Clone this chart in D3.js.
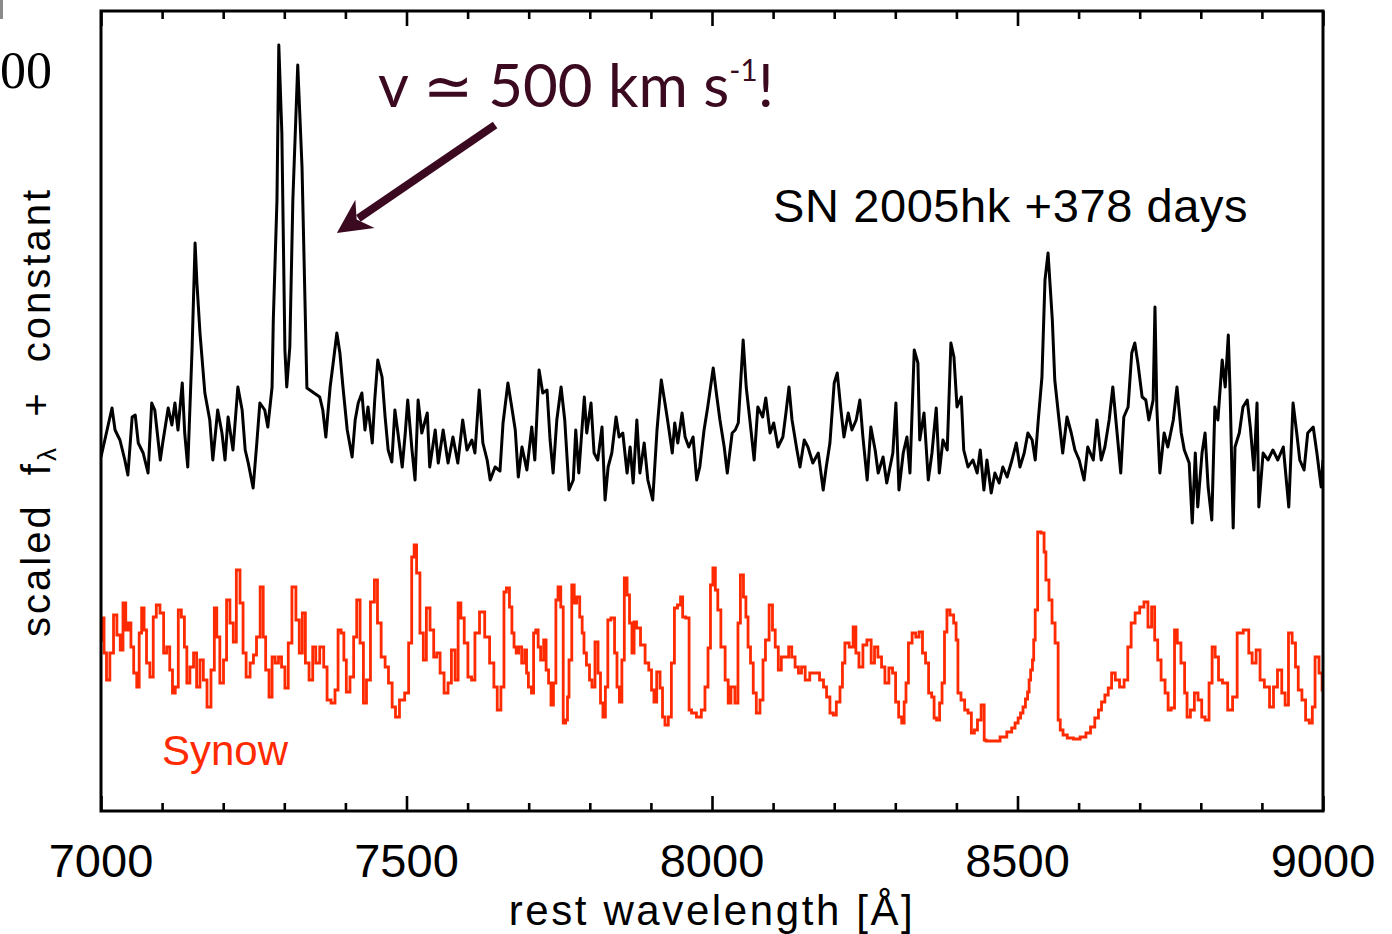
<!DOCTYPE html>
<html>
<head>
<meta charset="utf-8">
<script src="https://cdn.jsdelivr.net/npm/d3@7"></script>
<style>
  body { margin: 0; background: #fff; }
  svg { display: block; }
  text { white-space: pre; }
</style>
</head>
<body>
<svg id="chart" width="1392" height="934"></svg>
<script>
// Late-time spectrum of SN 2005hk: observed flux (offset) and the Synow fit below it.
// [rest wavelength in Angstrom, scaled flux + constant]
const observed = [
  [7000,3.54],[7018,4.03],[7023,3.81],[7031,3.71],[7039,3.51],[7044,3.36],[7051,3.94],[7056,3.96],
  [7061,3.68],[7069,3.58],[7077,3.38],[7083,4.08],[7088,4.01],[7097,3.51],[7101,3.68],[7110,4.03],
  [7116,3.86],[7121,4.08],[7126,3.81],[7133,4.28],[7137,3.78],[7142,3.44],[7149,4.61],[7154,5.68],
  [7157,5.28],[7162,4.78],[7170,4.18],[7178,3.91],[7183,3.51],[7191,4.01],[7198,3.78],[7203,3.51],
  [7208,3.94],[7216,3.61],[7224,4.24],[7231,4.01],[7236,3.61],[7241,3.48],[7249,3.23],[7255,3.68],
  [7260,4.08],[7268,4.01],[7273,3.84],[7280,4.24],[7282,4.91],[7288,6.11],[7291,7.66],[7296,6.78],
  [7301,4.61],[7304,4.24],[7309,4.64],[7314,6.11],[7322,7.46],[7329,6.44],[7337,4.23],[7358,4.14],
  [7363,4.01],[7368,3.74],[7375,4.24],[7380,4.48],[7386,4.78],[7391,4.58],[7396,4.24],[7403,3.81],
  [7411,3.54],[7416,3.91],[7421,4.08],[7427,4.18],[7432,3.81],[7437,4.04],[7444,3.68],[7448,4.11],
  [7453,4.51],[7460,4.34],[7465,3.94],[7470,3.61],[7476,3.49],[7481,4.01],[7486,3.78],[7493,3.44],
  [7498,3.78],[7502,4.11],[7509,3.61],[7514,3.31],[7519,4.11],[7525,3.78],[7534,3.98],[7538,3.44],
  [7547,3.81],[7552,3.48],[7560,3.81],[7568,3.48],[7576,3.74],[7584,3.48],[7592,3.91],[7599,3.61],
  [7607,3.71],[7612,3.58],[7619,4.21],[7625,3.68],[7632,3.51],[7637,3.31],[7645,3.44],[7653,3.40],
  [7658,3.88],[7666,4.28],[7673,4.01],[7678,3.81],[7683,3.34],[7689,3.64],[7697,3.41],[7705,3.84],
  [7710,3.51],[7717,4.41],[7723,4.18],[7730,4.21],[7735,3.71],[7740,3.38],[7746,3.91],[7753,4.24],
  [7759,3.91],[7766,3.21],[7773,3.31],[7777,3.81],[7782,3.38],[7791,4.14],[7795,3.78],[7802,4.08],
  [7807,3.58],[7813,3.51],[7820,3.84],[7825,3.11],[7830,3.44],[7836,3.58],[7843,3.94],[7848,3.74],
  [7854,3.78],[7861,3.38],[7866,3.64],[7871,3.28],[7877,3.91],[7882,3.38],[7889,3.68],[7895,3.31],
  [7903,3.11],[7910,3.81],[7917,4.31],[7923,4.08],[7928,3.88],[7935,3.58],[7939,3.88],[7944,3.68],
  [7951,3.98],[7956,3.74],[7962,3.64],[7969,3.74],[7975,3.31],[7980,3.44],[7987,3.81],[7993,4.04],
  [8002,4.43],[8008,4.14],[8013,3.91],[8020,3.64],[8025,3.38],[8033,3.78],[8038,3.81],[8043,3.88],
  [8051,4.71],[8056,4.24],[8062,3.91],[8069,3.51],[8075,4.04],[8083,3.94],[8088,4.13],[8095,3.78],
  [8101,3.88],[8108,3.64],[8116,3.74],[8121,3.98],[8126,4.24],[8131,3.91],[8139,3.61],[8144,3.44],
  [8151,3.71],[8157,3.64],[8165,3.48],[8174,3.58],[8182,3.21],[8187,3.44],[8193,3.68],[8200,4.28],
  [8205,4.38],[8211,4.01],[8216,3.74],[8223,3.98],[8229,3.81],[8236,3.91],[8242,4.11],[8247,3.74],
  [8254,3.31],[8260,3.84],[8267,3.61],[8272,3.38],[8280,3.54],[8286,3.28],[8296,3.58],[8301,4.08],
  [8306,3.21],[8313,3.58],[8319,3.74],[8324,3.38],[8331,4.61],[8337,4.48],[8340,3.71],[8347,3.98],
  [8354,3.31],[8360,3.58],[8367,4.03],[8372,3.38],[8378,3.71],[8385,3.61],[8391,4.68],[8396,4.54],
  [8401,4.04],[8408,4.14],[8412,3.61],[8419,3.44],[8427,3.51],[8434,3.38],[8439,3.61],[8445,3.21],
  [8450,3.51],[8457,3.18],[8463,3.38],[8470,3.28],[8476,3.44],[8483,3.34],[8491,3.51],[8498,3.68],
  [8504,3.44],[8511,3.58],[8517,3.78],[8524,3.71],[8529,3.51],[8534,3.91],[8540,4.34],[8545,5.31],
  [8550,5.58],[8557,4.91],[8561,4.31],[8568,3.91],[8574,3.58],[8581,3.94],[8588,3.78],[8594,3.61],
  [8601,3.51],[8609,3.31],[8615,3.64],[8624,3.51],[8630,3.91],[8637,3.51],[8643,3.64],[8650,3.91],
  [8656,4.24],[8663,3.78],[8669,3.38],[8674,3.94],[8681,4.04],[8687,4.58],[8692,4.68],[8697,4.48],
  [8704,4.14],[8710,4.11],[8715,3.91],[8722,4.11],[8725,5.04],[8728,4.04],[8733,3.38],[8740,3.78],
  [8746,3.64],[8755,3.91],[8761,4.24],[8768,3.78],[8773,3.61],[8781,3.48],[8786,2.88],[8791,3.58],
  [8795,3.04],[8802,3.58],[8807,3.78],[8812,3.24],[8818,2.91],[8823,4.04],[8828,3.91],[8835,4.51],
  [8840,4.24],[8845,4.76],[8848,4.18],[8853,2.83],[8856,3.64],[8863,3.78],[8869,4.04],[8876,4.11],
  [8881,3.84],[8887,3.41],[8892,4.08],[8895,3.04],[8902,3.58],[8910,3.51],[8918,3.61],[8926,3.51],
  [8935,3.64],[8941,3.24],[8944,3.04],[8951,4.08],[8957,3.78],[8962,3.51],[8969,3.41],[8975,3.78],
  [8984,3.84],[8990,3.58],[8997,3.24],[9000,3.51]
];

// Synow synthetic spectrum, binned (drawn as steps)
const synow = [
  [7000,1.71],[7003,1.93],[7007,1.58],[7011,1.31],[7018,1.58],[7023,1.96],[7029,1.76],[7034,1.61],
  [7038,2.08],[7043,1.81],[7047,1.88],[7051,1.64],[7056,1.38],[7061,1.24],[7064,1.78],[7069,2.03],
  [7072,1.81],[7077,1.48],[7083,1.34],[7088,1.94],[7093,2.06],[7100,1.98],[7105,1.58],[7110,1.64],
  [7115,1.41],[7119,1.18],[7124,1.24],[7129,2.01],[7134,1.94],[7139,1.64],[7142,1.28],[7149,1.44],
  [7154,1.58],[7159,1.24],[7165,1.51],[7170,1.31],[7177,1.04],[7183,1.41],[7188,2.03],[7191,1.74],
  [7198,1.28],[7203,1.51],[7208,2.11],[7214,1.88],[7219,1.69],[7224,2.41],[7231,2.08],[7234,1.58],
  [7241,1.34],[7247,1.48],[7252,1.56],[7257,1.74],[7264,2.24],[7267,1.74],[7272,1.41],[7278,1.14],
  [7282,1.54],[7288,1.48],[7293,1.54],[7298,1.44],[7304,1.23],[7309,1.68],[7316,2.24],[7322,1.91],
  [7327,1.58],[7332,1.98],[7337,1.48],[7344,1.31],[7349,1.64],[7354,1.48],[7362,1.64],[7367,1.44],
  [7373,1.11],[7380,1.08],[7386,1.21],[7390,1.81],[7396,1.78],[7399,1.51],[7404,1.19],[7411,1.34],
  [7416,1.74],[7421,2.11],[7427,1.68],[7432,1.08],[7437,1.31],[7445,2.09],[7450,2.31],[7455,1.88],
  [7462,1.54],[7468,1.44],[7473,1.28],[7480,1.04],[7484,0.94],[7493,1.11],[7501,1.18],[7506,1.68],
  [7511,2.54],[7514,2.66],[7519,2.38],[7525,1.78],[7530,1.51],[7535,2.03],[7542,1.81],[7547,1.54],
  [7552,1.58],[7558,1.38],[7565,1.18],[7571,1.28],[7576,1.61],[7583,1.31],[7586,2.08],[7592,1.93],
  [7597,1.68],[7604,1.34],[7609,1.31],[7615,1.78],[7624,1.99],[7632,1.74],[7640,1.48],[7646,1.24],
  [7651,1.01],[7658,1.24],[7661,2.19],[7666,2.23],[7671,2.04],[7674,1.78],[7678,1.64],[7681,1.58],
  [7686,1.64],[7691,1.48],[7696,1.61],[7697,1.38],[7702,1.24],[7707,1.18],[7709,1.78],[7714,1.81],
  [7717,1.64],[7722,1.51],[7727,1.71],[7730,1.41],[7735,1.28],[7738,1.06],[7743,1.28],[7746,2.11],
  [7750,2.24],[7755,2.04],[7758,0.88],[7763,0.91],[7764,1.14],[7768,1.51],[7773,2.26],[7776,2.08],
  [7781,2.14],[7786,1.94],[7789,1.78],[7792,1.58],[7797,1.46],[7802,1.31],[7805,1.24],[7812,1.69],
  [7815,1.38],[7820,1.08],[7823,0.94],[7828,1.24],[7831,1.91],[7838,1.93],[7843,1.58],[7846,1.24],
  [7851,1.09],[7854,1.51],[7859,2.33],[7863,2.16],[7867,1.88],[7871,1.58],[7874,1.89],[7879,1.83],
  [7887,1.66],[7894,1.48],[7899,1.41],[7903,1.21],[7907,1.09],[7912,1.39],[7918,1.23],[7920,0.94],
  [7926,0.86],[7931,0.94],[7936,1.48],[7941,2.03],[7946,2.06],[7951,2.14],[7953,1.94],[7961,1.93],
  [7964,1.01],[7969,0.98],[7980,0.94],[7985,1.01],[7992,1.24],[7995,1.63],[8000,2.26],[8003,2.43],
  [8008,2.21],[8011,2.01],[8018,1.64],[8025,1.31],[8028,1.08],[8034,1.24],[8041,1.08],[8044,1.88],
  [8049,2.36],[8054,2.14],[8057,1.94],[8061,1.64],[8065,1.48],[8070,1.18],[8075,0.98],[8082,1.11],
  [8085,1.51],[8090,1.71],[8097,2.06],[8101,1.81],[8106,1.64],[8111,1.41],[8116,1.54],[8123,1.54],
  [8128,1.64],[8133,1.54],[8139,1.44],[8144,1.38],[8149,1.44],[8156,1.31],[8164,1.38],[8172,1.38],
  [8180,1.31],[8185,1.24],[8190,1.14],[8196,0.98],[8201,0.96],[8206,1.09],[8213,1.24],[8214,1.48],
  [8221,1.68],[8228,1.64],[8234,1.84],[8237,1.58],[8244,1.44],[8250,1.66],[8257,1.71],[8264,1.48],
  [8268,1.64],[8275,1.54],[8280,1.44],[8286,1.28],[8293,1.43],[8298,1.38],[8303,1.09],[8308,0.94],
  [8313,0.88],[8316,1.09],[8319,1.28],[8324,1.68],[8331,1.78],[8336,1.74],[8342,1.79],[8347,1.58],
  [8352,1.48],[8357,1.18],[8362,1.14],[8365,0.93],[8370,0.91],[8375,1.08],[8378,1.28],[8383,1.79],
  [8386,2.01],[8393,1.96],[8398,1.88],[8401,1.71],[8404,1.18],[8411,1.11],[8416,1.01],[8422,0.98],
  [8427,0.78],[8432,0.81],[8437,0.91],[8444,1.06],[8447,0.71],[8450,0.70],[8455,0.70],[8466,0.70],
  [8477,0.74],[8488,0.79],[8493,0.83],[8499,0.88],[8503,0.93],[8507,0.98],[8511,1.04],[8515,1.12],
  [8518,1.19],[8520,1.31],[8523,1.41],[8526,1.51],[8527,1.71],[8531,2.01],[8535,2.79],[8542,2.78],
  [8545,2.59],[8548,2.31],[8555,2.11],[8558,1.88],[8565,1.68],[8568,0.91],[8572,0.81],[8577,0.76],
  [8586,0.73],[8597,0.72],[8608,0.74],[8616,0.78],[8623,0.84],[8630,0.93],[8635,1.01],[8640,1.09],
  [8646,1.16],[8651,1.23],[8657,1.38],[8663,1.31],[8671,1.24],[8678,1.31],[8683,1.64],[8689,1.88],
  [8696,1.98],[8704,2.04],[8710,2.09],[8717,1.84],[8722,2.04],[8727,1.71],[8732,1.51],[8738,1.31],
  [8745,1.18],[8748,1.01],[8755,1.03],[8759,1.81],[8764,1.68],[8771,1.48],[8776,1.18],[8779,0.94],
  [8787,1.01],[8792,1.18],[8799,1.11],[8804,0.94],[8810,0.91],[8817,1.28],[8820,1.64],[8827,1.54],
  [8831,1.31],[8840,1.28],[8848,1.01],[8856,1.14],[8863,1.78],[8876,1.81],[8881,1.58],[8887,1.48],
  [8894,1.61],[8900,1.31],[8908,1.24],[8917,1.04],[8921,1.24],[8930,1.41],[8935,1.18],[8941,1.06],
  [8946,1.78],[8953,1.68],[8957,1.44],[8962,1.21],[8969,1.11],[8974,0.91],[8981,0.88],[8984,1.04],
  [8990,1.54],[8997,1.38],[9000,1.21]
];

const xDomain = [7000, 9000];
const yDomain = [0, 8];
const majorTicks = [7000, 7500, 8000, 8500, 9000];
const tickLabels = ["7000", "7500", "8000", "8500", "9000"];

// Annotation: velocity callout arrow, in data coordinates [wavelength, flux]
const arrowFrom = [7645, 6.86];
const arrowTo = [7386, 5.78];

const svg = d3.select("#chart");
const plot = { left: 101, right: 1323, top: 11, bottom: 811 };

const x = d3.scaleLinear().domain(xDomain).range([plot.left, plot.right]);
const y = d3.scaleLinear().domain(yDomain).range([plot.bottom, plot.top]);

const minorTicks = d3.range(7100, 9000, 100).filter(v => v % 500 !== 0);

// Stray fragments at the top-left edge of the panel
svg.append("rect").attr("x", 0).attr("y", 0).attr("width", 3).attr("height", 19).attr("fill", "#8a8a8a");
svg.append("text").attr("x", 0).attr("y", 88)
  .attr("font-family", "Liberation Serif, Times New Roman, serif").attr("font-size", 52)
  .attr("fill", "#000").text("00");

// Spectra
svg.append("clipPath").attr("id", "plotclip").append("rect")
  .attr("x", plot.left).attr("y", plot.top)
  .attr("width", plot.right - plot.left).attr("height", plot.bottom - plot.top);

const lines = svg.append("g").attr("clip-path", "url(#plotclip)");

lines.append("path")
  .datum(synow)
  .attr("fill", "none")
  .attr("stroke", "#ff2a00")
  .attr("stroke-width", 2.8)
  .attr("stroke-linejoin", "miter")
  .attr("d", d3.line().x(d => x(d[0])).y(d => y(d[1])).curve(d3.curveStep));

lines.append("path")
  .datum(observed)
  .attr("fill", "none")
  .attr("stroke", "#000")
  .attr("stroke-width", 3)
  .attr("stroke-linejoin", "round")
  .attr("d", d3.line().x(d => x(d[0])).y(d => y(d[1])));

// Axes: ticks point inward on top and bottom
function tickAxis(axisFn, values, size, yPos) {
  const g = svg.append("g").attr("transform", `translate(0,${yPos})`)
    .call(axisFn(x).tickValues(values).tickSize(-size).tickFormat(""));
  g.select(".domain").remove();
  g.selectAll(".tick line").attr("stroke", "#000").attr("stroke-width", 2.6);
  return g;
}
tickAxis(d3.axisBottom, majorTicks, 15, plot.bottom);
tickAxis(d3.axisBottom, minorTicks, 8, plot.bottom);
tickAxis(d3.axisTop, majorTicks, 15, plot.top);
tickAxis(d3.axisTop, minorTicks, 8, plot.top);

svg.append("rect")
  .attr("x", plot.left).attr("y", plot.top)
  .attr("width", plot.right - plot.left).attr("height", plot.bottom - plot.top)
  .attr("fill", "none").attr("stroke", "#000").attr("stroke-width", 3);

const sans = "Liberation Sans, Arial, Helvetica, sans-serif";

svg.append("g").selectAll("text").data(majorTicks).join("text")
  .attr("x", d => x(d)).attr("y", 877)
  .attr("text-anchor", "middle")
  .attr("font-family", sans).attr("font-size", 47).attr("fill", "#000")
  .text((d, i) => tickLabels[i]);

svg.append("text")
  .attr("x", (plot.left + plot.right) / 2).attr("y", 925)
  .attr("text-anchor", "middle")
  .attr("font-family", sans).attr("font-size", 42).attr("letter-spacing", 2.6)
  .attr("fill", "#000")
  .text("rest wavelength [Å]");

// Y axis title with subscript lambda
const yTitle = svg.append("text")
  .attr("transform", "translate(50,412) rotate(-90)")
  .attr("text-anchor", "middle")
  .attr("font-family", sans).attr("font-size", 40).attr("letter-spacing", 3)
  .attr("fill", "#000");
yTitle.append("tspan").text("scaled  f");
yTitle.append("tspan").attr("font-size", 26).attr("dy", 6).text("λ");
yTitle.append("tspan").attr("dy", -6).text("  +  constant");

// Labels inside the panel
svg.append("text")
  .attr("x", 773).attr("y", 222)
  .attr("font-family", sans).attr("font-size", 47).attr("letter-spacing", 0.6).attr("fill", "#000")
  .text("SN 2005hk +378 days");

svg.append("text")
  .attr("x", 162).attr("y", 765)
  .attr("font-family", sans).attr("font-size", 42).attr("fill", "#ff2a00")
  .text("Synow");

// Velocity callout
const callColor = "#3b0a20";
const vText = svg.append("text")
  .attr("x", 378).attr("y", 107)
  .attr("font-family", "Lato, Open Sans, sans-serif").attr("font-size", 60)
  .attr("fill", callColor);
vText.append("tspan").text("v ≃ 500 km s");
vText.append("tspan").attr("font-size", 30).attr("dy", -26).text("-1");
vText.append("tspan").attr("font-size", 60).attr("dy", 26).text("!");

const p0 = [x(arrowFrom[0]), y(arrowFrom[1])];
const p1 = [x(arrowTo[0]), y(arrowTo[1])];
const dx = p1[0] - p0[0], dy = p1[1] - p0[1];
const len = Math.hypot(dx, dy);
const ux = dx / len, uy = dy / len;      // along the arrow
const nx = -uy, ny = ux;                  // perpendicular
const headLen = 34, headHalf = 17, notch = 10;
const base = [p1[0] - ux * headLen, p1[1] - uy * headLen];
const neck = [p1[0] - ux * (headLen - notch), p1[1] - uy * (headLen - notch)];

svg.append("line")
  .attr("x1", p0[0]).attr("y1", p0[1])
  .attr("x2", neck[0] - ux * 2).attr("y2", neck[1] - uy * 2)
  .attr("stroke", callColor).attr("stroke-width", 8);

svg.append("path")
  .attr("fill", callColor)
  .attr("d", d3.line()([
    p1,
    [base[0] + nx * headHalf, base[1] + ny * headHalf],
    neck,
    [base[0] - nx * headHalf, base[1] - ny * headHalf]
  ]) + "Z");
</script>
</body>
</html>
